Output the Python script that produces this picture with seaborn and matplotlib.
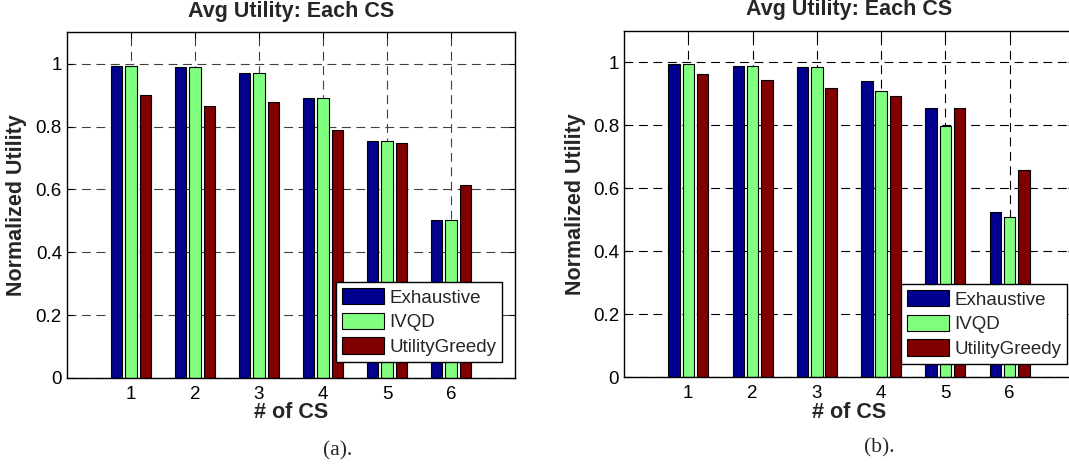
import numpy as np
import pandas as pd
import matplotlib
matplotlib.use("Agg")
import matplotlib.pyplot as plt
import seaborn as sns

# ---- data -------------------------------------------------------------
cs_labels = ["1", "2", "3", "4", "5", "6"]
methods = ["Exhaustive", "IVQD", "UtilityGreedy"]

# panel (a)
a_exhaustive = [0.994, 0.989, 0.970, 0.891, 0.755, 0.503]
a_ivqd = [0.994, 0.989, 0.970, 0.891, 0.755, 0.503]
a_greedy = [0.902, 0.866, 0.879, 0.788, 0.749, 0.615]

# panel (b)
b_exhaustive = [0.994, 0.989, 0.986, 0.940, 0.853, 0.525]
b_ivqd = [0.993, 0.989, 0.986, 0.908, 0.797, 0.508]
b_greedy = [0.964, 0.943, 0.917, 0.892, 0.856, 0.657]

y_ticks = [0, 0.2, 0.4, 0.6, 0.8, 1.0]
y_tick_labels = ["0", "0.2", "0.4", "0.6", "0.8", "1"]
panel_captions = ["(a).", "(b)."]

colors = ["#00008F", "#80FF80", "#800000"]

# ---- style ------------------------------------------------------------
sns.set_theme(style="white")
plt.rcParams["font.family"] = ["Liberation Sans", "DejaVu Sans"]


def long_frame(exh, ivqd, greedy):
    rows = []
    for name, vals in zip(methods, [exh, ivqd, greedy]):
        for c, v in zip(cs_labels, vals):
            rows.append({"cs": c, "method": name, "value": v})
    return pd.DataFrame(rows)


W, H = 1069, 466
fig = plt.figure(figsize=(W / 100, H / 100), dpi=100)
fig.patch.set_facecolor("white")

# axes rectangles in pixels: left, top, right, bottom
rects = [(67, 32.3, 515, 378), (624, 30.7, 1074, 377)]
legend_corners = [(502, 362), (1067, 364)]
grid_colors = ["#404040", "black"]
caption_pos = [(338, 455), (879, 452)]
ylabel_x = [17, 575]

datasets = [
    long_frame(a_exhaustive, a_ivqd, a_greedy),
    long_frame(b_exhaustive, b_ivqd, b_greedy),
]

for i, df in enumerate(datasets):
    l, t, r, b = rects[i]
    ax = fig.add_axes([l / W, 1 - b / H, (r - l) / W, (b - t) / H])
    sns.barplot(
        data=df, x="cs", y="value", hue="method", order=cs_labels,
        hue_order=methods, palette=colors, width=0.667, gap=0.2,
        edgecolor="black", linewidth=0.8, saturation=1, ax=ax,
        errorbar=None,
    )
    ax.set_xlim(-1, 6)
    ax.set_ylim(0, 1.1)
    ax.set_yticks(y_ticks)
    ax.set_yticklabels(y_tick_labels)
    ax.set_axisbelow(True)
    ax.grid(True, which="major", axis="both", color=grid_colors[i],
            linestyle=(0, (8, 5)), linewidth=0.8)
    for s in ax.spines.values():
        s.set_visible(True)
        s.set_color("black")
        s.set_linewidth(1.0)
    ax.tick_params(axis="both", direction="in", length=4, width=0.8,
                   colors="black", labelsize=13.5, top=True, right=True,
                   bottom=True, left=True)
    ax.tick_params(axis="x", pad=6)
    ax.tick_params(axis="y", pad=3.6)

    ax.set_title("Avg Utility: Each CS", fontsize=15.5, fontweight="bold",
                 pad=11)
    ax.set_xlabel("# of CS", fontsize=15.5, fontweight="bold", va="center")
    ax.set_ylabel("Normalized Utility", fontsize=15.5, fontweight="bold",
                  va="center")
    ax.xaxis.set_label_coords(0.5, (b - 412) / (b - t))
    ax.yaxis.set_label_coords((ylabel_x[i] - l) / (r - l), 0.5)

    lx, ly = legend_corners[i]
    leg = ax.legend(
        loc="lower right", bbox_to_anchor=(lx / W, 1 - ly / H),
        bbox_transform=fig.transFigure, borderaxespad=0, fontsize=13.5,
        handlelength=2.25, handleheight=0.95, handletextpad=0.25,
        labelspacing=0.33, borderpad=0.32, fancybox=False, framealpha=1,
        edgecolor="black",
    )
    leg.get_frame().set_linewidth(1.0)

    cx, cy = caption_pos[i]
    fig.text(cx / W, 1 - cy / H, panel_captions[i], ha="center",
             va="baseline", fontsize=15.5, family=["Liberation Serif"])

fig.savefig("out.png", dpi=100, facecolor="white")
